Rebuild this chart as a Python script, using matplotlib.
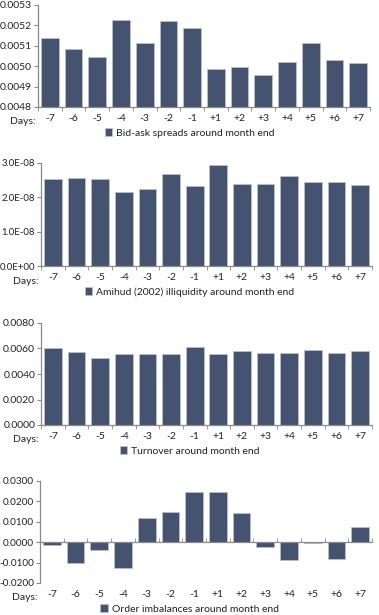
import matplotlib
matplotlib.use("Agg")
import matplotlib.pyplot as plt
from matplotlib.ticker import FuncFormatter, MultipleLocator
import numpy as np

days = ["-7", "-6", "-5", "-4", "-3", "-2", "-1", "+1", "+2", "+3", "+4", "+5", "+6", "+7"]
bid_ask = [0.005137, 0.005083, 0.005044, 0.005225, 0.005113, 0.005223, 0.005189,
           0.004987, 0.004995, 0.004958, 0.005021, 0.005113, 0.005028, 0.005018]
amihud = [2.54e-8, 2.55e-8, 2.52e-8, 2.15e-8, 2.25e-8, 2.67e-8, 2.34e-8,
          2.93e-8, 2.38e-8, 2.38e-8, 2.61e-8, 2.44e-8, 2.46e-8, 2.35e-8]
turnover = [0.00602, 0.00573, 0.00529, 0.00560, 0.00560, 0.00560, 0.00610,
            0.00555, 0.00581, 0.00565, 0.00568, 0.00589, 0.00568, 0.00581]
order_imb = [-0.0016, -0.0104, -0.0039, -0.0125, 0.0118, 0.0148, 0.0247,
             0.0247, 0.0141, -0.0023, -0.0088, -0.0002, -0.0081, 0.0076]

legends = ["Bid-ask spreads around month end",
           "Amihud (2002) illiquidity around month end",
           "Turnover around month end",
           "Order imbalances around month end"]

plt.rcParams['font.family'] = ['Lato', 'DejaVu Sans']
plt.rcParams['axes.unicode_minus'] = False
W, H = 379, 615
fig = plt.figure(figsize=(W / 100, H / 100), dpi=100)

BAR = '#445370'
EDGE = '#b9c0cc'
AX = '#8a8a8a'
TXT = '#222222'
FS = 7.5

# (left, right, top, bottom) in px, ylim, tick step, formatter, legend y, y-label size
panels = [
    (38, 370, 5, 107, (0.0048, 0.0053), 0.0001, lambda v, p: f"{v:.4f}", 133, bid_ask, 7.5),
    (41, 372, 163, 266, (0.0, 3.0e-8), 1.0e-8, lambda v, p: f"{v:.1E}", 292, amihud, 6.9),
    (41, 372, 323, 425, (0.0, 0.008), 0.002, lambda v, p: f"{v:.4f}", 451, turnover, 7.5),
    (40, 372, 481, 583, (-0.02, 0.03), 0.01, lambda v, p: f"{v:.4f}", 609, order_imb, 7.2),
]

x = np.arange(len(days))
for i, (l, r, t, b, ylim, step, fmt, ly, vals, yfs) in enumerate(panels):
    ax = fig.add_axes([l / W, 1 - b / H, (r - l) / W, (b - t) / H])
    base = ylim[0] if i < 3 else 0.0
    heights = [v - base for v in vals]
    ax.bar(x, heights, bottom=base, width=0.75, color=BAR, edgecolor=EDGE,
           linewidth=0.6, label=legends[i])
    ax.set_xlim(-0.5, len(days) - 0.5)
    ax.set_ylim(*ylim)
    ax.yaxis.set_major_locator(MultipleLocator(step))
    ax.yaxis.set_major_formatter(FuncFormatter(fmt))
    for s in ['top', 'right']:
        ax.spines[s].set_visible(False)
    for s in ['left', 'bottom']:
        ax.spines[s].set_color(AX)
        ax.spines[s].set_linewidth(0.9)
    ax.tick_params(axis='y', direction='out', length=3, color=AX, labelsize=yfs,
                   labelcolor=TXT, pad=1.2)
    ax.set_xticks(np.arange(len(days) + 1) - 0.5, minor=True)
    ax.set_xticks([])
    ax.tick_params(axis='x', which='minor', direction='out', length=3, color=AX)
    if i == 3:
        ax.spines['bottom'].set_position(('data', 0))
        ax.tick_params(axis='x', which='minor', direction='in', length=3)
    sec = ax.secondary_xaxis(0.0)
    sec.set_xticks(x, labels=days)
    sec.tick_params(length=0, labelsize=FS, labelcolor=TXT, pad=5)
    sec.spines['bottom'].set_visible(False)
    ah = b - t
    ax.text(-0.008, -15 / ah, "Days:", transform=ax.transAxes, ha='right',
            va='center', fontsize=FS, color=TXT)
    ax.legend(loc='center', bbox_to_anchor=(0.5, 1 - ly / H), bbox_transform=fig.transFigure,
              frameon=False, fontsize=FS, handlelength=0.7, handleheight=0.7,
              handletextpad=0.4, labelcolor=TXT, borderpad=0)

fig.savefig("out.png", dpi=100)
